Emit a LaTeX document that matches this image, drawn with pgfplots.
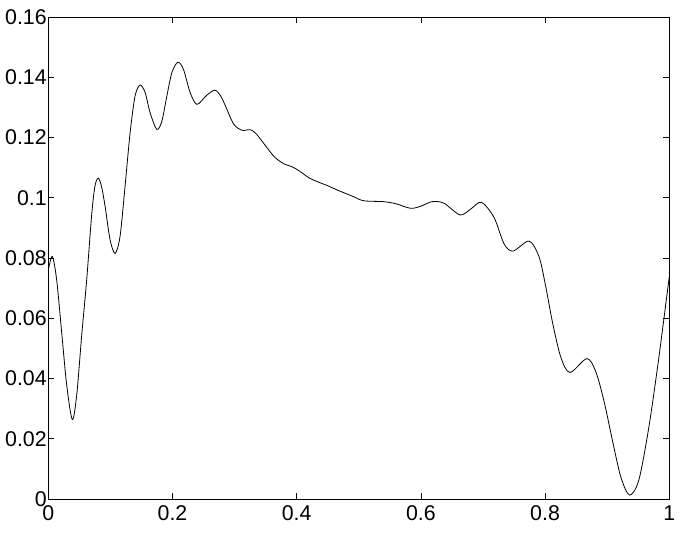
\documentclass[border=0pt]{standalone}
\usepackage{fontspec}
\setmainfont{Liberation Sans}
\usepackage{pgfplots}
\pgfplotsset{compat=1.18}

\begin{document}
\begin{tikzpicture}
\begin{axis}[
  width=465.75pt, height=361.5pt,
  scale only axis,
  xmin=0, xmax=1, ymin=0, ymax=0.16,
  xtick={0,0.2,0.4,0.6,0.8,1},
  ytick={0,0.02,0.04,0.06,0.08,0.1,0.12,0.14,0.16},
  scaled y ticks=false,
  scaled x ticks=false,
  tick align=inside,
  major tick length=4.5pt,
  axis line style={line width=0.6pt},
  every tick/.style={line width=0.5pt, black},
  tick label style={font=\fontsize{16}{19}\selectfont},
  /pgf/number format/assume math mode=true,
  yticklabel style={/pgf/number format/fixed, /pgf/number format/precision=2, inner sep=1pt},
  xticklabel style={/pgf/number format/fixed, /pgf/number format/precision=1, inner sep=1pt, yshift=-4pt},
]
\addplot[black, line width=0.6pt, smooth, tension=0.5] coordinates {
(0.000,0.0760) (0.0065,0.0805) (0.0135,0.0728) (0.0216,0.0553) (0.0297,0.0378)
(0.0387,0.0264) (0.0458,0.0345) (0.0539,0.0545) (0.0619,0.0728) (0.0700,0.0946)
(0.0753,0.1040) (0.0807,0.1065) (0.0860,0.1035) (0.0915,0.0972) (0.0995,0.0861)
(0.1076,0.0815) (0.1156,0.0872) (0.1237,0.1039) (0.1318,0.1216) (0.1398,0.1338)
(0.1479,0.1374) (0.1560,0.1349) (0.1640,0.1282) (0.1748,0.1227) (0.1829,0.1254)
(0.1910,0.1338) (0.1990,0.1415) (0.2087,0.1450) (0.2177,0.1426) (0.2285,0.1349)
(0.2394,0.1310) (0.2550,0.1340) (0.2681,0.1357) (0.2770,0.1340) (0.2855,0.1304)
(0.2984,0.1245) (0.3120,0.1224) (0.3253,0.1226) (0.3350,0.1212) (0.3500,0.1172)
(0.3650,0.1134) (0.3800,0.1112) (0.3925,0.1103) (0.4050,0.1088) (0.4200,0.1066)
(0.4350,0.1052) (0.4500,0.1040) (0.4650,0.1026) (0.4900,0.1005)
(0.5080,0.0990) (0.5400,0.0987) (0.5600,0.0980) (0.5834,0.0965) (0.6000,0.0972)
(0.6180,0.0987) (0.6370,0.0982) (0.6630,0.0943) (0.6800,0.0962) (0.6974,0.0985)
(0.7177,0.0935) (0.7340,0.0847) (0.7484,0.0823) (0.7742,0.0856) (0.7903,0.0804)
(0.8010,0.0706) (0.8120,0.0586) (0.8253,0.0471) (0.8400,0.0420) (0.8673,0.0466)
(0.8818,0.0422) (0.8950,0.0324) (0.9086,0.0193) (0.9220,0.0073) (0.9360,0.0013)
(0.9510,0.0063) (0.9670,0.0237) (0.9830,0.0466) (1.0000,0.0738)
};
\end{axis}
\pgfresetboundingbox
\path (current axis.south west) ++(-36.2pt,-27.75pt) coordinate (bl);
\path (current axis.north east) ++(8.8pt,12.75pt) coordinate (tr);
\path (bl) rectangle (tr);
\end{tikzpicture}
\end{document}
